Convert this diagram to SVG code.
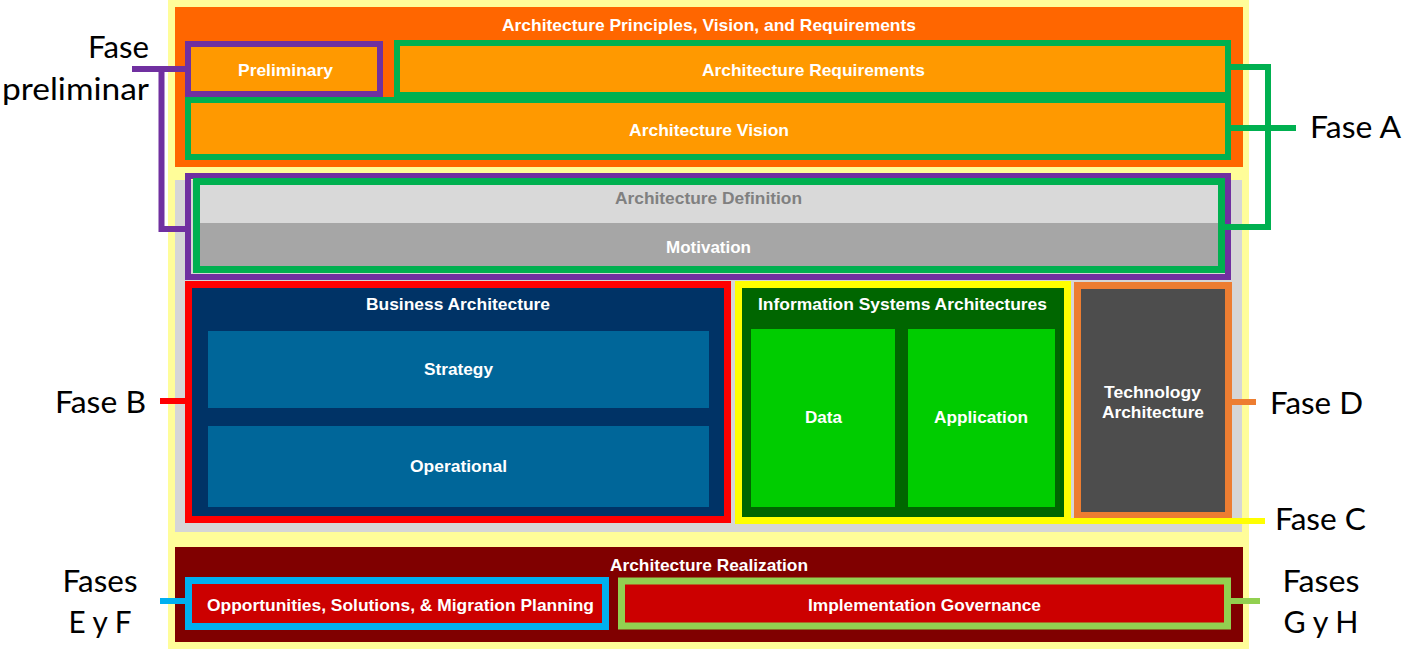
<svg xmlns="http://www.w3.org/2000/svg" width="1406" height="651" viewBox="0 0 1406 651">
  <style>
    .lbl{font-family:"Liberation Sans",Arial,sans-serif;font-weight:bold;font-size:17px;fill:#ffffff;text-anchor:middle}
    .side{font-family:Lato,"Open Sans",sans-serif;font-size:31px;fill:#000000}
    .wire{fill:none;stroke-width:6;stroke-linecap:butt;stroke-linejoin:miter}
  </style>

  <!-- backdrop panels -->
  <g id="backdrop">
    <rect x="168" y="0" width="1081" height="649" fill="#FFFD99"/>
    <rect x="175" y="7" width="1068" height="160" fill="#FF6600"/>
    <rect x="175" y="180" width="1067" height="352" fill="#D6D6D6"/>
    <rect x="175" y="547" width="1068" height="95" fill="#800000"/>
    <text class="lbl" x="709" y="31" textLength="414" lengthAdjust="spacingAndGlyphs">Architecture Principles, Vision, and Requirements</text>
    <text class="lbl" x="709" y="571" textLength="198" lengthAdjust="spacingAndGlyphs">Architecture Realization</text>
  </g>

  <g id="preliminary">
    <rect x="188" y="44" width="192" height="50" fill="#FF9900" stroke="#7030A0" stroke-width="6"/>
    <text class="lbl" x="285.5" y="76" textLength="95" lengthAdjust="spacingAndGlyphs">Preliminary</text>
  </g>

  <g id="vision">
    <rect x="188" y="100" width="1040" height="57" fill="#FF9900" stroke="#00B050" stroke-width="6"/>
    <text class="lbl" x="709" y="136" textLength="160" lengthAdjust="spacingAndGlyphs">Architecture Vision</text>
  </g>

  <g id="requirements">
    <rect x="397" y="43" width="831" height="52" fill="#FF9900" stroke="#00B050" stroke-width="6"/>
    <text class="lbl" x="813.5" y="76" textLength="223" lengthAdjust="spacingAndGlyphs">Architecture Requirements</text>
  </g>

  <g id="definition">
    <rect x="188" y="176" width="1040" height="101" fill="none" stroke="#7030A0" stroke-width="6"/>
    <rect x="197" y="182" width="1024" height="41" fill="#D9D9D9"/>
    <rect x="197" y="223" width="1024" height="47" fill="#A6A6A6"/>
    <rect x="196.5" y="181.5" width="1025" height="88" fill="none" stroke="#00B050" stroke-width="7"/>
    <text class="lbl" x="708.5" y="204" textLength="187" lengthAdjust="spacingAndGlyphs" style="fill:#808080">Architecture Definition</text>
    <text class="lbl" x="708.5" y="253" textLength="85" lengthAdjust="spacingAndGlyphs">Motivation</text>
  </g>

  <g id="business">
    <rect x="188.5" y="284.5" width="539" height="235" fill="#003366" stroke="#FF0000" stroke-width="7"/>
    <text class="lbl" x="458" y="310" textLength="184" lengthAdjust="spacingAndGlyphs">Business Architecture</text>
    <rect x="208" y="331" width="501" height="77" fill="#006699"/>
    <text class="lbl" x="458.5" y="375" textLength="69" lengthAdjust="spacingAndGlyphs">Strategy</text>
    <rect x="208" y="426" width="501" height="81" fill="#006699"/>
    <text class="lbl" x="458.5" y="472" textLength="97" lengthAdjust="spacingAndGlyphs">Operational</text>
  </g>

  <g id="information-systems">
    <rect x="738.5" y="284.5" width="329" height="236" fill="#006600" stroke="#FFFF00" stroke-width="7"/>
    <text class="lbl" x="902.5" y="310" textLength="289" lengthAdjust="spacingAndGlyphs">Information Systems Architectures</text>
    <rect x="751" y="329" width="144" height="178" fill="#00CC00"/>
    <text class="lbl" x="823.5" y="423" textLength="37" lengthAdjust="spacingAndGlyphs">Data</text>
    <rect x="908" y="329" width="147" height="178" fill="#00CC00"/>
    <text class="lbl" x="981" y="423" textLength="94" lengthAdjust="spacingAndGlyphs">Application</text>
  </g>

  <g id="technology">
    <rect x="1077.5" y="285.5" width="151" height="230" fill="#4D4D4D" stroke="#ED7D31" stroke-width="7"/>
    <text class="lbl" x="1152.5" y="398" textLength="97" lengthAdjust="spacingAndGlyphs">Technology</text>
    <text class="lbl" x="1153" y="418" textLength="102" lengthAdjust="spacingAndGlyphs">Architecture</text>
  </g>

  <g id="migration-planning">
    <rect x="188.5" y="580.5" width="417" height="46" fill="#CC0000" stroke="#00B0F0" stroke-width="7"/>
    <text class="lbl" x="400.5" y="611" textLength="387" lengthAdjust="spacingAndGlyphs">Opportunities, Solutions, &amp; Migration Planning</text>
  </g>

  <g id="governance">
    <rect x="621.5" y="581" width="606" height="45" fill="#CC0000" stroke="#92D050" stroke-width="7"/>
    <text class="lbl" x="924.5" y="611" textLength="233" lengthAdjust="spacingAndGlyphs">Implementation Governance</text>
  </g>

  <!-- phase brackets and leader lines -->
  <g id="connectors">
    <path class="wire" stroke="#7030A0" stroke-width="6.5" d="M132,69 H187 M161.5,66 V229 H187"/>
    <path class="wire" stroke="#00B050" d="M1229,67 H1268 V227 H1223 M1229,128 H1296"/>
    <path class="wire" stroke="#FF0000" d="M160,401 H187"/>
    <path class="wire" stroke="#ED7D31" d="M1230,402 H1256"/>
    <path class="wire" stroke="#FFFF00" stroke-width="5" d="M1069,521 H1265"/>
    <path class="wire" stroke="#00B0F0" d="M160,601 H187"/>
    <path class="wire" stroke="#92D050" d="M1229,601 H1260"/>
  </g>

  <g id="phase-labels">
    <text class="side" x="149" y="58" text-anchor="end" textLength="61" lengthAdjust="spacingAndGlyphs">Fase</text>
    <text class="side" x="149" y="100" text-anchor="end" textLength="147" lengthAdjust="spacingAndGlyphs">preliminar</text>
    <text class="side" x="1310" y="138" textLength="91" lengthAdjust="spacingAndGlyphs">Fase A</text>
    <text class="side" x="146" y="413" text-anchor="end" textLength="91" lengthAdjust="spacingAndGlyphs">Fase B</text>
    <text class="side" x="1270" y="414" textLength="93" lengthAdjust="spacingAndGlyphs">Fase D</text>
    <text class="side" x="1275" y="530" textLength="91" lengthAdjust="spacingAndGlyphs">Fase C</text>
    <text class="side" x="100" y="592" text-anchor="middle" textLength="75" lengthAdjust="spacingAndGlyphs">Fases</text>
    <text class="side" x="100" y="633" text-anchor="middle" textLength="63" lengthAdjust="spacingAndGlyphs">E y F</text>
    <text class="side" x="1321" y="592" text-anchor="middle" textLength="77" lengthAdjust="spacingAndGlyphs">Fases</text>
    <text class="side" x="1321" y="633" text-anchor="middle" textLength="75" lengthAdjust="spacingAndGlyphs">G y H</text>
  </g>
</svg>
